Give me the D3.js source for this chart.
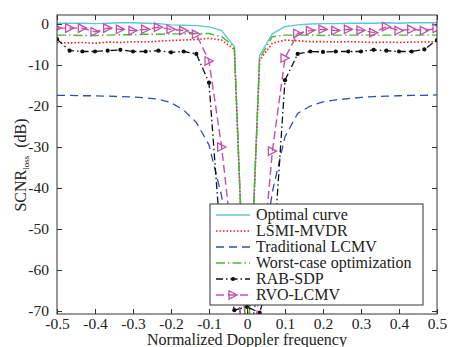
<!DOCTYPE html>
<html>
<head>
<meta charset="utf-8">
<script src="https://cdn.jsdelivr.net/npm/d3@7"></script>
<style>
  body { margin: 0; background: #fff; }
  svg { display: block; font-family: "Liberation Serif", "Times New Roman", serif; }
</style>
</head>
<body>
<div id="chart"></div>
<script>
// normalized Doppler frequency grid
const freq = [-0.5, -0.4667, -0.4333, -0.4, -0.3667, -0.3333, -0.3, -0.2667, -0.2333, -0.2, -0.1667,
  -0.1333, -0.1, -0.0667, -0.0333, 0, 0.0333, 0.0667, 0.1, 0.1333, 0.1667, 0.2, 0.2333, 0.2667,
  0.3, 0.3333, 0.3667, 0.4, 0.4333, 0.4667, 0.5];

const optimal = [0.2, 0.2, 0.2, 0.1, 0.2, 0.3, 0.3, 0.2, 0.1, -0.2, -0.3, -0.4, -0.7, -1.6, -5.5, -85,
  -7.6, -2.4, -0.6, -0.2, 0.0, 0.1, 0.1, 0.2, 0.2, 0.2, 0.3, 0.2, 0.3, 0.3, 0.3];
const lsmi = [-4.5, -4.6, -4.5, -4.7, -4.4, -4.5, -4.3, -4.4, -4.2, -4.0, -3.9, -3.8, -3.5, -3.9, -6.2, -85,
  -8.8, -4.7, -3.9, -4.1, -4.3, -4.3, -4.4, -4.3, -4.4, -4.5, -4.4, -4.5, -4.4, -4.4, -4.3];
const tradLcmv = [-17.4, -17.4, -17.5, -17.5, -17.6, -17.7, -17.8, -18.0, -18.3, -19.2, -21.0, -24.0, -29.5, -42, -62, -80,
  -62, -41, -27.5, -21.8, -20.0, -19.0, -18.5, -18.2, -17.9, -17.7, -17.6, -17.5, -17.4, -17.4, -17.3];
const worstCase = [-2.7, -2.7, -2.8, -2.8, -2.7, -2.6, -2.6, -2.5, -2.5, -2.4, -2.4, -2.3, -2.3, -3.1, -5.5, -85,
  -8.4, -3.1, -2.7, -2.7, -2.7, -2.8, -2.7, -2.7, -2.7, -2.7, -2.7, -2.7, -2.7, -2.7, -2.7];
const rabSdp = [-3.7, -6.5, -6.7, -6.7, -6.5, -6.3, -6.7, -6.7, -6.5, -6.9, -6.7, -7.3, -14.3, -56, -69.8, -69,
  -70.4, -60, -13.7, -7.3, -6.7, -6.8, -6.7, -6.7, -6.7, -6.3, -6.5, -6.7, -6.7, -6.2, -3.9];
const rvoLcmv = [-1.0, -1.0, -1.0, -1.9, -1.0, -1.3, -1.6, -1.3, -0.8, -1.3, -1.6, -2.5, -9.0, -30.0, -58, -85,
  -66, -31, -8.3, -2.3, -1.6, -1.3, -1.6, -1.3, -1.5, -2.1, -0.65, -1.6, -1.3, -1.6, -1.05];

const xTicks = [-0.5, -0.4, -0.3, -0.2, -0.1, 0, 0.1, 0.2, 0.3, 0.4, 0.5];
const yTicks = [0, -10, -20, -30, -40, -50, -60, -70];

const series = [
  { name: 'Optimal curve', values: optimal, color: '#5ec6dc', dash: null, width: 1.4 },
  { name: 'LSMI-MVDR', values: lsmi, color: '#ff1a1a', dash: '1.5,2', width: 1.6 },
  { name: 'Traditional LCMV', values: tradLcmv, color: '#2f4fae', dash: '8,5', width: 1.3 },
  { name: 'Worst-case optimization', values: worstCase, color: '#4cb82c', dash: '9,3,1.5,3', width: 1.4 },
  { name: 'RAB-SDP', values: rabSdp, color: '#111', dash: '7,3,1.5,3', width: 1.3, marker: 'dot' },
  { name: 'RVO-LCMV', values: rvoLcmv, color: '#c24fab', dash: '8,4', width: 1.4, marker: 'tri' }
];

const W = 452, H = 347;
const margin = { left: 57, right: 437, top: 15, bottom: 314 };

const svg = d3.select('#chart').append('svg')
  .attr('width', W)
  .attr('height', H);

const x = d3.scaleLinear().domain([-0.5, 0.5]).range([margin.left, margin.right]);
const y = d3.scaleLinear().domain([-70.73, 2.2]).range([margin.bottom, margin.top]);

svg.append('clipPath').attr('id', 'plot')
  .append('rect')
  .attr('x', margin.left).attr('y', margin.top)
  .attr('width', margin.right - margin.left).attr('height', margin.bottom - margin.top);

const fmt = d => d === 0 ? '0' : d3.format('.1f')(d).replace('\u2212', '-');

// axes with inward ticks on all four sides
const axisStyle = g => {
  g.select('.domain').remove();
  g.selectAll('line').attr('stroke', '#333');
  g.selectAll('text').attr('fill', '#222').style('font-size', '15.5px')
    .style('font-family', '"Liberation Serif", serif');
};

svg.append('g')
  .attr('transform', `translate(0,${margin.bottom})`)
  .call(d3.axisBottom(x).tickValues(xTicks).tickSizeInner(-5).tickSizeOuter(0).tickPadding(4).tickFormat(fmt))
  .call(axisStyle);

svg.append('g')
  .attr('transform', `translate(0,${margin.top})`)
  .call(d3.axisTop(x).tickValues(xTicks).tickSizeInner(-5).tickSizeOuter(0).tickFormat(''))
  .call(axisStyle);

svg.append('g')
  .attr('transform', `translate(${margin.left},0)`)
  .call(d3.axisLeft(y).tickValues(yTicks).tickSizeInner(-5).tickSizeOuter(0).tickPadding(8)
    .tickFormat(d => String(d)))
  .call(axisStyle);

svg.append('g')
  .attr('transform', `translate(${margin.right},0)`)
  .call(d3.axisRight(y).tickValues(yTicks).tickSizeInner(-5).tickSizeOuter(0).tickFormat(''))
  .call(axisStyle);

const plot = svg.append('g').attr('clip-path', 'url(#plot)');

const line = d3.line()
  .x((d, i) => x(freq[i]))
  .y(d => y(d));

const triPath = 'M-4,-4.2L4.2,0L-4,4.2Z';

series.forEach(s => {
  plot.append('path')
    .datum(s.values)
    .attr('d', line)
    .attr('fill', 'none')
    .attr('stroke', s.color)
    .attr('stroke-width', s.width)
    .attr('stroke-dasharray', s.dash);

  if (s.marker === 'dot') {
    plot.append('g').selectAll('circle')
      .data(s.values)
      .join('circle')
      .attr('cx', (d, i) => x(freq[i]))
      .attr('cy', d => y(d))
      .attr('r', 2.1)
      .attr('fill', s.color);
  }
  if (s.marker === 'tri') {
    plot.append('g').selectAll('path')
      .data(s.values)
      .join('path')
      .attr('transform', (d, i) => `translate(${x(freq[i])},${y(d)})`)
      .attr('d', triPath)
      .attr('fill', 'none')
      .attr('stroke', s.color)
      .attr('stroke-width', 1.3);
  }
});

// frame
svg.append('rect')
  .attr('x', margin.left).attr('y', margin.top)
  .attr('width', margin.right - margin.left).attr('height', margin.bottom - margin.top)
  .attr('fill', 'none')
  .attr('stroke', '#333')
  .attr('stroke-width', 1);

// legend
const lg = svg.append('g');
lg.append('rect')
  .attr('x', 210).attr('y', 204)
  .attr('width', 213).attr('height', 101)
  .attr('fill', '#fff')
  .attr('stroke', '#333')
  .attr('stroke-width', 1);

series.forEach((s, i) => {
  const ly = 215 + i * 16;
  lg.append('line')
    .attr('x1', 216).attr('x2', 250)
    .attr('y1', ly).attr('y2', ly)
    .attr('stroke', s.color)
    .attr('stroke-width', s.width)
    .attr('stroke-dasharray', s.dash);
  if (s.marker === 'dot') {
    lg.append('circle').attr('cx', 233).attr('cy', ly).attr('r', 2.1).attr('fill', s.color);
  }
  if (s.marker === 'tri') {
    lg.append('path').attr('transform', `translate(233,${ly})`).attr('d', triPath)
      .attr('fill', 'none').attr('stroke', s.color).attr('stroke-width', 1.3);
  }
  lg.append('text')
    .attr('x', 256).attr('y', ly + 5)
    .style('font-size', '16px')
    .attr('fill', '#222')
    .text(s.name);
});

// axis titles
svg.append('text')
  .attr('x', 247).attr('y', 345)
  .attr('text-anchor', 'middle')
  .style('font-size', '16px')
  .attr('fill', '#222')
  .text('Normalized Doppler frequency');

const yl = svg.append('text')
  .attr('transform', 'translate(26,165) rotate(-90)')
  .attr('text-anchor', 'middle')
  .style('font-size', '16px')
  .attr('fill', '#222');
yl.append('tspan').text('SCNR');
yl.append('tspan').attr('dy', 3).style('font-size', '9px').text('loss');
yl.append('tspan').attr('dy', -3).text('\u2002(dB)');
</script>
</body>
</html>
